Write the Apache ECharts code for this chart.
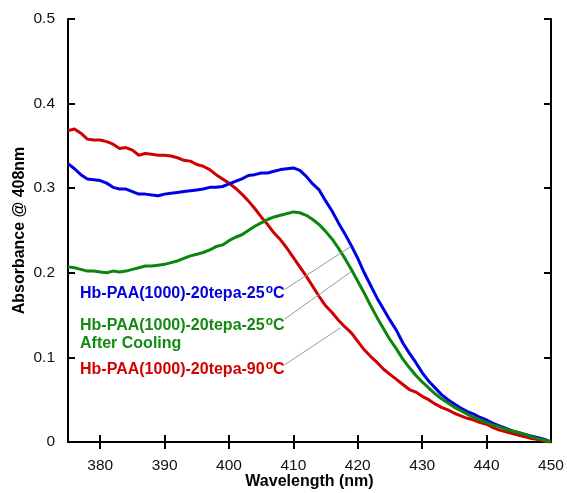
<!DOCTYPE html>
<html>
<head>
<meta charset="utf-8">
<script src="https://cdn.jsdelivr.net/npm/echarts@6/dist/echarts.min.js"></script>
<style>
html,body{margin:0;padding:0;background:#fff;}
#chart{width:567px;height:493px;}
</style>
</head>
<body>
<div id="chart"></div>
<script>
// Wavelengths (nm)
var wavelengths = [375,376,377,378,379,380,381,382,383,384,385,386,387,388,389,390,391,392,393,394,395,396,397,398,399,400,401,402,403,404,405,406,407,408,409,410,411,412,413,414,415,416,417,418,419,420,421,422,423,424,425,426,427,428,429,430,431,432,433,434,435,436,437,438,439,440,441,442,443,444,445,446,447,448,449,450];

// Hb-PAA(1000)-20tepa-25°C (blue)
var blue25 = [0.329,0.323,0.316,0.311,0.310,0.309,0.306,0.301,0.299,0.299,0.296,0.293,0.293,0.292,0.291,0.293,0.294,0.295,0.296,0.297,0.298,0.299,0.301,0.301,0.302,0.305,0.308,0.311,0.315,0.316,0.318,0.318,0.320,0.322,0.323,0.324,0.321,0.314,0.305,0.298,0.285,0.273,0.259,0.246,0.232,0.217,0.200,0.185,0.170,0.157,0.144,0.132,0.117,0.105,0.094,0.082,0.072,0.064,0.056,0.050,0.045,0.040,0.036,0.033,0.029,0.026,0.022,0.019,0.016,0.013,0.011,0.009,0.007,0.005,0.003,0.000];

// Hb-PAA(1000)-20tepa-25°C After Cooling (green)
var green25cool = [0.207,0.206,0.204,0.202,0.202,0.201,0.200,0.202,0.201,0.202,0.204,0.206,0.208,0.208,0.209,0.210,0.212,0.214,0.217,0.220,0.222,0.224,0.227,0.231,0.233,0.238,0.242,0.245,0.250,0.255,0.259,0.263,0.266,0.268,0.270,0.272,0.271,0.268,0.263,0.257,0.249,0.240,0.229,0.217,0.204,0.190,0.176,0.161,0.147,0.134,0.121,0.110,0.098,0.088,0.079,0.071,0.064,0.057,0.051,0.046,0.041,0.037,0.033,0.029,0.026,0.023,0.020,0.018,0.015,0.013,0.011,0.009,0.006,0.004,0.002,0.000];

// Hb-PAA(1000)-20tepa-90°C (red)
var red90 = [0.368,0.370,0.365,0.358,0.357,0.357,0.355,0.352,0.347,0.348,0.345,0.339,0.341,0.340,0.339,0.339,0.338,0.336,0.333,0.332,0.328,0.326,0.322,0.316,0.311,0.306,0.300,0.293,0.285,0.276,0.266,0.257,0.247,0.239,0.229,0.218,0.207,0.196,0.184,0.172,0.161,0.153,0.144,0.136,0.129,0.119,0.109,0.101,0.094,0.086,0.080,0.074,0.068,0.062,0.059,0.054,0.050,0.045,0.041,0.038,0.034,0.031,0.028,0.026,0.023,0.021,0.017,0.014,0.012,0.010,0.008,0.006,0.004,0.003,0.001,0.000];

// Tick values
var xTicks = [380,390,400,410,420,430,440,450];
var xTopTicks = [380,390,400,410,420,430,440];

// Leader lines: [startWavelength, startValue, endWavelength, endValue]
var leaderBlue = [408.6, 0.180, 418.9, 0.231];
var leaderGreen = [408.6, 0.145, 418.9, 0.201];
var leaderRed = [408.6, 0.091, 417.3, 0.135];

function pairs(xs, ys){ return xs.map(function(x,i){ return [x, ys[i]]; }); }
function leader(a){ return [{coord:[a[0],a[1]]},{coord:[a[2],a[3]]}]; }

var FONT = 'Liberation Sans, Arial, sans-serif';
var BLUE = '#0000e6', GREEN = '#0b860b', RED = '#d00000';

function richLabel(color){
  return {
    a: {fontSize:16, fontWeight:'bold', fontFamily:FONT, fill:color, lineHeight:18, verticalAlign:'bottom'},
    s: {fontSize:12, fontWeight:'bold', fontFamily:FONT, fill:color, lineHeight:6, verticalAlign:'top', padding:[0,0,0,1]}
  };
}

var chart = echarts.init(document.getElementById('chart'), null, {renderer:'canvas'});
var axisCommon = {
  axisLine:{show:true, lineStyle:{color:'#000', width:2}},
  axisTick:{show:true, inside:true, length:7, lineStyle:{color:'#000', width:2}},
  splitLine:{show:false}
};

chart.setOption({
  animation:false,
  backgroundColor:'#fff',
  grid:{left:68, right:16, top:19, bottom:51, containLabel:false, outerBoundsMode:'none'},
  xAxis:[
    Object.assign({}, axisCommon, {
      type:'value', position:'bottom', min:375, max:450,
      name:'Wavelength (nm)', nameLocation:'middle', nameGap:32, nameMoveOverlap:false,
      nameTextStyle:{fontSize:16, fontWeight:'bold', fontFamily:FONT, color:'#000'},
      axisTick:{show:true, inside:true, length:7, customValues:xTicks, lineStyle:{color:'#000', width:2}},
      axisLabel:{show:true, customValues:xTicks, margin:16, fontSize:15.5, fontFamily:FONT, color:'#111'}
    }),
    Object.assign({}, axisCommon, {
      type:'value', position:'top', min:375, max:450,
      axisTick:{show:true, inside:true, length:7, customValues:xTopTicks, lineStyle:{color:'#000', width:2}},
      axisLabel:{show:false}
    })
  ],
  yAxis:[
    Object.assign({}, axisCommon, {
      type:'value', position:'left', min:0, max:0.5, interval:0.1,
      name:'Absorbance @ 408nm', nameLocation:'middle', nameGap:40, nameMoveOverlap:false,
      nameTextStyle:{fontSize:16, fontWeight:'bold', fontFamily:FONT, color:'#000'},
      axisLabel:{show:true, margin:13, fontSize:15.5, fontFamily:FONT, color:'#111',
        formatter:function(v){ return v===0 ? '0' : v.toFixed(1); }}
    }),
    Object.assign({}, axisCommon, {
      type:'value', position:'right', min:0, max:0.5, interval:0.1,
      axisLabel:{show:false}
    })
  ],
  series:[
    {
      name:'Hb-PAA(1000)-20tepa-25°C', type:'line', data:pairs(wavelengths, blue25),
      showSymbol:false, symbol:'none', lineStyle:{color:BLUE, width:3}, z:3,
      markLine:{silent:true, symbol:['none','none'], label:{show:false},
        lineStyle:{color:'#9a9a9a', width:1, type:'solid'},
        data:[leader(leaderBlue), leader(leaderGreen), leader(leaderRed)]}
    },
    {
      name:'Hb-PAA(1000)-20tepa-25°C After Cooling', type:'line', data:pairs(wavelengths, green25cool),
      showSymbol:false, symbol:'none', lineStyle:{color:GREEN, width:3}, z:4
    },
    {
      name:'Hb-PAA(1000)-20tepa-90°C', type:'line', data:pairs(wavelengths, red90),
      showSymbol:false, symbol:'none', lineStyle:{color:RED, width:3}, z:2
    }
  ],
  graphic:[
    {type:'text', left:80, top:284, z:100, style:{text:'{a|Hb-PAA(1000)-20tepa-25}{s|o}{a|C}', rich:richLabel('#0000dd')}},
    {type:'text', left:80, top:316, z:100, style:{text:'{a|Hb-PAA(1000)-20tepa-25}{s|o}{a|C}\n{a|After Cooling}', rich:richLabel('#128a12')}},
    {type:'text', left:80, top:360, z:100, style:{text:'{a|Hb-PAA(1000)-20tepa-90}{s|o}{a|C}', rich:richLabel('#d40000')}}
  ]
});
</script>
</body>
</html>
